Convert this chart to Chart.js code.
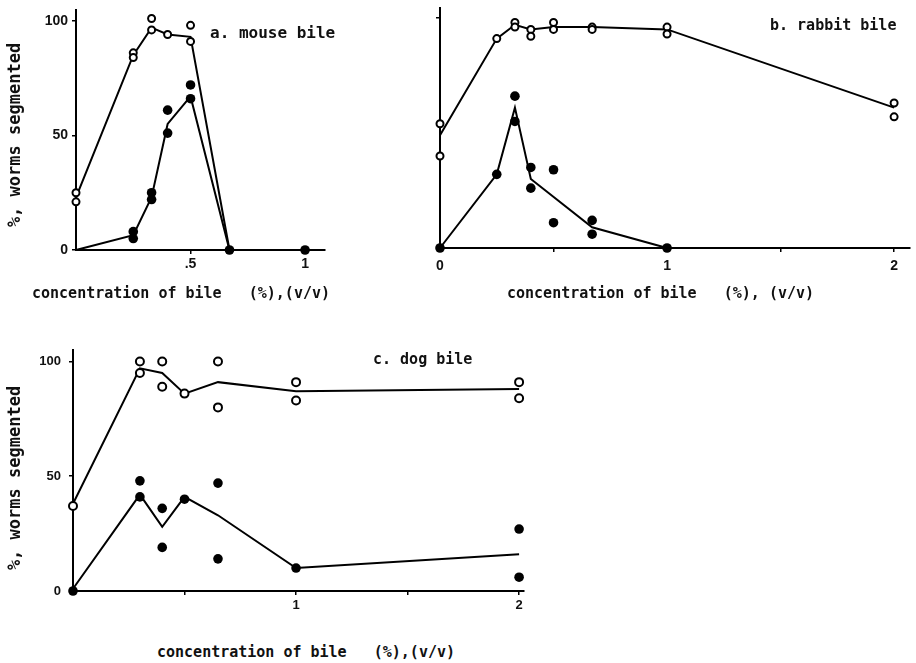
<!DOCTYPE html>
<html><head><meta charset="utf-8">
<script src="https://cdn.jsdelivr.net/npm/chart.js@4/dist/chart.umd.min.js"></script>
<style>
body{margin:0;background:#fff;width:916px;height:663px;position:relative;overflow:hidden;font-family:"DejaVu Sans Mono",monospace;color:#111}
canvas{position:absolute}
.t{position:absolute;white-space:pre;font-size:15px;line-height:16px;font-weight:bold}
.yt{position:absolute;white-space:pre;font-size:17px;line-height:17px;font-weight:bold;transform:translate(-50%,-50%) rotate(-90deg)}
</style></head><body>
<canvas id="chA" style="left:0;top:0" width="345" height="305"></canvas>
<canvas id="chB" style="left:360px;top:0" width="556" height="305"></canvas>
<canvas id="chC" style="left:0;top:330px" width="545" height="290"></canvas>

<div class="t" style="left:210px;top:25px;font-size:16px">a. mouse bile</div>
<div class="t" style="left:770px;top:17px">b. rabbit bile</div>
<div class="t" style="left:373px;top:351px">c. dog bile</div>
<div class="t" style="left:32px;top:285px">concentration of bile   (%),(v/v)</div>
<div class="t" style="left:507px;top:285px">concentration of bile   (%), (v/v)</div>
<div class="t" style="left:157px;top:644px">concentration of bile   (%),(v/v)</div>
<div class="yt" style="left:14px;top:135px">%, worms segmented</div>
<div class="yt" style="left:14px;top:478px">%, worms segmented</div>

<script>
const $=id=>document.getElementById(id);

// a. mouse bile
const mouseOpenX=[0,0,0.25,0.25,0.33,0.33,0.4,0.5,0.5];
const mouseOpenY=[25,21,86,84,101,96,94,98,91];
const mouseFillX=[0.25,0.25,0.33,0.33,0.4,0.4,0.5,0.5,0.67,1];
const mouseFillY=[8,5,25,22,61,51,72,66,0,0];
const mouseOpenLineX=[0,0.25,0.33,0.4,0.5,0.67];
const mouseOpenLineY=[23,85,97,94,93,0];
const mouseFillLineX=[0,0.25,0.33,0.4,0.5,0.67,1];
const mouseFillLineY=[0,6.5,23,55,67,0,0];
const mouseXTicks=[0.5,1], mouseXLabels=[".5","1"];
const mouseYTicks=[0,50,100], mouseYLabels=["0","50","100"];

// b. rabbit bile
const rabbitOpenX=[0,0,0.25,0.33,0.33,0.4,0.4,0.5,0.5,0.67,0.67,1,1,2,2];
const rabbitOpenY=[54,40,91,98,96,95,92,98,95,96,95,96,93,63,57];
const rabbitFillX=[0,0.25,0.33,0.33,0.4,0.4,0.5,0.5,0.67,0.67,1];
const rabbitFillY=[0,32,66,55,35,26,34,11,12,6,0];
const rabbitOpenLineX=[0,0.25,0.33,0.4,0.5,0.67,1,2];
const rabbitOpenLineY=[49,91,97,95,96,96,95,61];
const rabbitFillLineX=[0,0.25,0.33,0.4,0.67,1];
const rabbitFillLineY=[0,32,61,30,9,0];
const rabbitXTicks=[0,0.5,1,1.5,2], rabbitXLabels=["0","","1","","2"];
const rabbitYTicks=[100], rabbitYLabels=[""];

// c. dog bile
const dogOpenX=[0,0.3,0.3,0.4,0.4,0.5,0.65,0.65,1,1,2,2];
const dogOpenY=[37,100,95,100,89,86,100,80,91,83,91,84];
const dogFillX=[0,0.3,0.3,0.4,0.4,0.5,0.65,0.65,1,2,2];
const dogFillY=[0,48,41,36,19,40,47,14,10,27,6];
const dogOpenLineX=[0,0.3,0.4,0.5,0.65,1,2];
const dogOpenLineY=[38,97,95,86,91,87,88];
const dogFillLineX=[0,0.3,0.4,0.5,0.65,1,2];
const dogFillLineY=[1,42,28,41,33,10,16];
const dogXTicks=[0.5,1,1.5,2], dogXLabels=["","1","","2"];
const dogYTicks=[0,50,100], dogYLabels=["0","50","100"];

const pts=(xs,ys)=>xs.map((x,i)=>({x,y:ys[i]}));
const TICKFONT="Liberation Sans";

function panel(id,g,d){
  const line=(xs,ys)=>({type:"line",data:pts(xs,ys),borderColor:"#000",borderWidth:2,pointRadius:0,tension:0,clip:false});
  return new Chart($(id),{type:"scatter",
    data:{datasets:[
      {data:pts(d.fx,d.fy),pointRadius:4.8,backgroundColor:"#000",borderColor:"#000",borderWidth:0,clip:false},
      {data:pts(d.ox,d.oy),pointRadius:g.r,backgroundColor:"#fff",borderColor:"#000",borderWidth:2,clip:false},
      line(d.olx,d.oly),
      line(d.flx,d.fly)]},
    options:{responsive:false,animation:false,events:[],
      layout:{padding:{left:0,top:g.pt,right:g.pr,bottom:0}},
      plugins:{legend:{display:false},tooltip:{enabled:false}},
      scales:{
        x:{type:"linear",min:0,max:g.xmax,
          afterBuildTicks:s=>{s.ticks=d.xt.map(v=>({value:v}))},
          afterFit:s=>{s.height=g.xh;s.paddingLeft=s.paddingRight=0},
          ticks:{callback:(v,i)=>d.xl[i],color:"#111",font:{family:TICKFONT,size:g.fs,weight:"bold"},padding:g.xp,maxRotation:0,autoSkip:false},
          grid:{drawOnChartArea:false,tickLength:4,color:"#000",lineWidth:1.5},
          border:{display:true,color:"#000",width:2}},
        y:{type:"linear",min:0,max:g.ymax,
          afterBuildTicks:s=>{s.ticks=d.yt.map(v=>({value:v}))},
          afterFit:s=>{s.width=g.yw;s.paddingTop=s.paddingBottom=0},
          ticks:{callback:(v,i)=>d.yl[i],color:"#111",font:{family:TICKFONT,size:g.fs,weight:"bold"},padding:g.yp,autoSkip:false},
          grid:{drawOnChartArea:false,tickLength:4,color:"#000",lineWidth:1.5},
          border:{display:true,color:"#000",width:2}}
      }}});
}

panel("chA",{pt:10,pr:20,yw:76,xh:55,xmax:1.087,ymax:104.7,r:3.5,fs:14,xp:2,yp:4},
  {ox:mouseOpenX,oy:mouseOpenY,fx:mouseFillX,fy:mouseFillY,olx:mouseOpenLineX,oly:mouseOpenLineY,
   flx:mouseFillLineX,fly:mouseFillLineY,xt:mouseXTicks,xl:mouseXLabels,yt:mouseYTicks,yl:mouseYLabels});
panel("chB",{pt:8,pr:0,yw:80,xh:57,xmax:2.07,ymax:104.3,r:3.5,fs:14,xp:6,yp:4},
  {ox:rabbitOpenX,oy:rabbitOpenY,fx:rabbitFillX,fy:rabbitFillY,olx:rabbitOpenLineX,oly:rabbitOpenLineY,
   flx:rabbitFillLineX,fly:rabbitFillLineY,xt:rabbitXTicks,xl:rabbitXLabels,yt:rabbitYTicks,yl:rabbitYLabels});
panel("chC",{pt:20,pr:21,yw:73,xh:29,xmax:2.022,ymax:105,r:4,fs:13,xp:3,yp:8},
  {ox:dogOpenX,oy:dogOpenY,fx:dogFillX,fy:dogFillY,olx:dogOpenLineX,oly:dogOpenLineY,
   flx:dogFillLineX,fly:dogFillLineY,xt:dogXTicks,xl:dogXLabels,yt:dogYTicks,yl:dogYLabels});
</script>
</body></html>
